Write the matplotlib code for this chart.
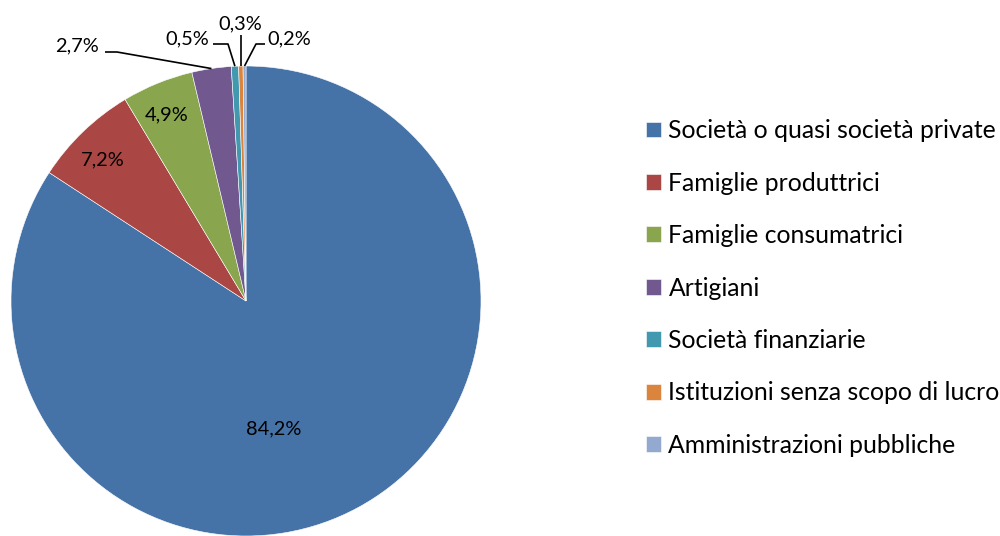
import numpy as np
import matplotlib
matplotlib.use("Agg")
import matplotlib.pyplot as plt

# quote percentuali per settore istituzionale
settori = [
    "Società o quasi società private",
    "Famiglie produttrici",
    "Famiglie consumatrici",
    "Artigiani",
    "Società finanziarie",
    "Istituzioni senza scopo di lucro",
    "Amministrazioni pubbliche",
]
quote = [84.2, 7.2, 4.9, 2.7, 0.5, 0.3, 0.2]
colori = ["#4572A7", "#AA4643", "#89A54E", "#71588F", "#4198AF", "#DB843D", "#93A9CF"]

W, H = 1000, 536
plt.rcParams['font.family'] = ['Lato', 'DejaVu Sans']

fig = plt.figure(figsize=(W / 100, H / 100), dpi=100)
ax = fig.add_axes([0, 0, 1, 1])

# centro e raggio in pixel (y dal basso)
cx, cy, R = 246, H - 301, 235

wedges, _ = ax.pie(quote, colors=colori, startangle=90, counterclock=False,
                   center=(cx, cy), radius=R, frame=True,
                   wedgeprops=dict(edgecolor="white", linewidth=0.4))
ax.set_xlim(0, W)
ax.set_ylim(0, H)
ax.axis("off")


def fmt(v):
    return f"{v:.1f}%".replace(".", ",")


def rim(w):
    a = np.deg2rad((w.theta1 + w.theta2) / 2)
    return cx + R * np.cos(a), cy + R * np.sin(a)


fs = 14.4
# etichette interne (x, y in pixel dall'alto)
interne = {0: (274, 429), 1: (103, 160), 2: (167, 115)}
for i, (x, y) in interne.items():
    ax.text(x, H - y, fmt(quote[i]), ha="center", va="center", fontsize=fs)

# etichette esterne con linee guida: testo, gomito, fine tratto orizzontale
esterne = {
    3: ((77, 46), (117, 52), (105, 52)),
    4: ((187, 39), (228, 44), (213, 44)),
    5: ((240, 24), None, (241, 35)),
    6: ((289, 39), (256, 44), (265, 44)),
}
for i, (tp, gom, fine) in esterne.items():
    px, py = rim(wedges[i])
    if gom is None:
        xs = [px, px]
        ys = [py, H - fine[1]]
    else:
        xs = [px, gom[0], fine[0]]
        ys = [py, H - gom[1], H - fine[1]]
    ax.plot(xs, ys, color="black", linewidth=1.2, solid_capstyle="butt")
    ax.text(tp[0], H - tp[1], fmt(quote[i]), ha="center", va="center", fontsize=fs)

ax.legend(wedges, settori, loc="center left", bbox_to_anchor=(0.646, 1 - 288 / H),
          bbox_transform=fig.transFigure, frameon=False, fontsize=17.8,
          handlelength=0.61, handleheight=0.61, handletextpad=0.3,
          labelspacing=1.19, borderpad=0, borderaxespad=0)

fig.savefig("out.png", dpi=100)
